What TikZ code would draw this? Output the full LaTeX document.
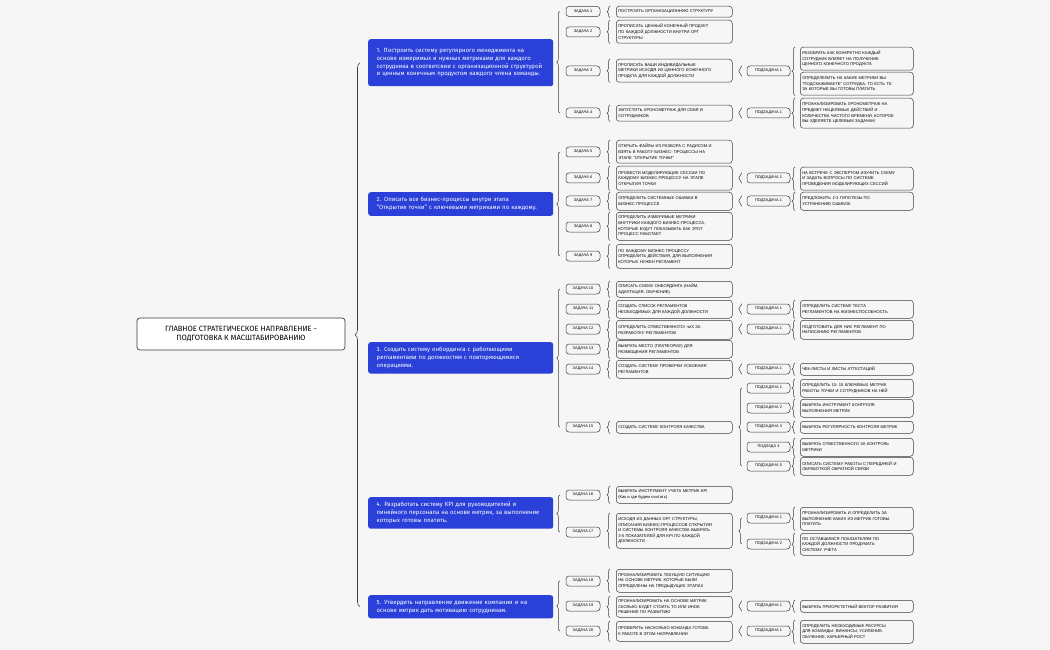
\documentclass[tikz,border=0pt]{standalone}
\usepackage{fontspec}
\setmainfont{Fira Sans}
\newfontfamily\smf{Liberation Sans}
\usetikzlibrary{decorations.pathreplacing}
\definecolor{bl}{HTML}{2A40D8}
\definecolor{ln}{HTML}{3A3A3A}
\definecolor{bg}{HTML}{F6F6F7}
\tikzset{
 every node/.style={inner sep=2pt},
 root/.style={draw=ln,line width=0.7pt,rounded corners=3pt,fill=white,minimum width=208,minimum height=32,align=center,font=\fontsize{7.6}{9.5}\selectfont},
 blue/.style={fill=bl,rounded corners=2.5pt,text=white,anchor=north west,minimum width=185,text width=168,inner sep=5pt,align=left,font=\fontsize{6.0}{7.8}\selectfont},
 tl/.style={draw=ln,line width=0.5pt,rounded corners=3pt,minimum width=34,minimum height=10,inner sep=1pt,font=\smf\fontsize{3.9}{4.5}\selectfont},
 sl/.style={tl,minimum width=43},
 tb/.style={draw=ln,line width=0.5pt,rounded corners=3pt,anchor=north west,minimum width=116,text width=112,align=left,font=\smf\fontsize{4.1}{5.6}\selectfont},
 sb/.style={tb,minimum width=113,text width=109},
 br/.style={draw=ln,line width=0.5pt,decorate,decoration={brace,amplitude=3pt}},
 bbr/.style={draw=ln,line width=0.6pt,decorate,decoration={brace,amplitude=5pt}},
}
\newcommand\Task[6]{%
 \node[tl] (l#1) at (583,#3) {#2};
 \node[tb,minimum height={#5-#4}] (x#1) at (616,#4) {#6};
 \draw[br] ([xshift=-6]x#1.south west) -- ([xshift=-6]x#1.north west);}
\newcommand\Sub[6]{%
 \node[sl] (s#1) at (768.5,#3) {#2};
 \node[sb,minimum height={#5-#4}] (y#1) at (800,#4) {#6};
 \draw[br] ([xshift=-5]y#1.south west) -- ([xshift=-5]y#1.north west);}
\newcommand\SubBr[1]{\draw[br] ([xshift=-5]#1.south west) -- ([xshift=-5]#1.north west);}
\begin{document}
\begin{tikzpicture}[x=1pt,y=-1pt]
\useasboundingbox (0,0) rectangle (1050,650);
\fill[bg] (0,0) rectangle (1050,650);
\node[root] (r) at (241,334) {ГЛАВНОЕ СТРАТЕГИЧЕСКОЕ НАПРАВЛЕНИЕ -\\ПОДГОТОВКА К МАСШТАБИРОВАНИЮ};
\node[blue,minimum height=47] (b1) at (368,39) {1. Построить систему регулярного менеджмента на основе измеримых и нужных метриками для каждого сотрудника в соответсвии с организационной структурой и ценным конечным продуктом каждого члена команды.};
\node[blue,minimum height=22] (b2) at (368,192) {2. Описать все бизнес-процессы внутри этапа\\"Открытие точки" с ключевыми метриками по каждому.};
\node[blue,minimum height=31] (b3) at (368,342) {3. Создать систему онбординга с работающими регламентами по должностям с повторяющимися операциями.};
\node[blue,minimum height=30] (b4) at (368,497) {4. Разработать систему KPI для руководителей и линейного персонала на основе метрик, за выполнение которых готовы платить.};
\node[blue,minimum height=23] (b5) at (368,595) {5. Утвердить направление движение компании и на основе метрик дать мотивацию сотрудникам.};
\draw[bbr] ([xshift=-8]b5.west) -- ([xshift=-8]b1.west);
% group 1
\Task{1}{ЗАДАЧА 1}{11.5}{6}{17}{ПОСТРОИТЬ ОРГАНИЗАЦИОННУЮ СТРУКТУРУ}
\Task{2}{ЗАДАЧА 2}{32}{20}{43}{ПРОПИСАТЬ ЦЕННЫЙ КОНЕЧНЫЙ ПРОДУКТ\\ПО КАЖДОЙ ДОЛЖНОСТИ ВНУТРИ ОРГ\\СТРУКТУРЫ}
\Task{3}{ЗАДАЧА 3}{71}{59}{82}{ПРОПИСАТЬ ВАШИ ИНДИВИДАЛЬНЫЕ\\МЕТРИКИ ИСХОДЯ ИЗ ЦЕННОГО КОНЕЧНОГО\\ПРОДКТА ДЛЯ КАЖДОЙ ДОЛЖНОСТИ}
\Task{4}{ЗАДАЧА 4}{113}{105}{121}{ЗАПУСТИТЬ ХРОНОМЕТРАЖ ДЛЯ СЕБЯ И\\СОТРУДНИКОВ}
\draw[br] ([xshift=-6]l4.west) -- ([xshift=-6]l1.west);
\node[sl] (s3) at (768.5,71) {ПОДЗАДАЧА 1};
\node[sb,minimum height=23] (y3a) at (800,47) {РАЗОБРАТЬ КАК КОНКРЕТНО КАЖДЫЙ\\СОТРУДНИК ВЛИЯЕТ НА ПОЛУЧЕНИЕ\\ЦЕННОГО КОНЕЧНОГО ПРОДУКТА};
\node[sb,minimum height=23] (y3b) at (800,72) {ОПРЕДЕЛЕЛИТЬ НА КАКИЕ МЕТРИКИ ВЫ\\"ПОДСКАЖИВАЕТЕ" СОТРУДКА, ТО ЕСТЬ ТЕ\\ЗА КОТОРЫЕ ВЫ ГОТОВЫ ПЛАТИТЬ};
\draw[br] ([xshift=-5]y3b.south west) -- ([xshift=-5]y3a.north west);
\SubBr{s3}
\Sub{4}{ПОДЗАДАЧА 1}{113}{98}{128}{ПРОАНАЛИЗИРОВАТЬ ХРОНОМЕТРАЖ НА\\ПРЕДМЕТ НЕЦЕЛЕВЫХ ДЕЙСТВИЙ И\\КОЛИЧЕСТВА ЧИСТОГО ВРЕМЕНИ, КОТОРОЕ\\ВЫ УДЕЛЯЕТЕ ЦЕЛЕВЫМ ЗАДАЧАМ}
\SubBr{s4}
% group 2
\Task{5}{ЗАДАЧА 5}{152}{140}{163}{ОТКРЫТЬ ФАЙЛЫ ИЗ РАЗБОРА С РАДИСОМ И\\ВЗЯТЬ В РАБОТУ БИЗНЕС- ПРОЦЕССЫ НА\\ЭТАПЕ "ОТКРЫТИЕ ТОЧКИ"}
\Task{6}{ЗАДАЧА 6}{178}{166}{190}{ПРОВЕСТИ МОДЕЛИРУЮЩИЕ СЕССИИ ПО\\КАЖДОМУ БИЗНЕС-ПРОЦЕССУ НА ЭТАПЕ\\ОТКРЫТИЯ ТОЧКИ}
\Task{7}{ЗАДАЧА 7}{201}{192}{210}{ОПРЕДЕЛИТЬ СИСТЕМНЫЕ ОШИБКИ В\\БИЗНЕС ПРОЦЕССЕ}
\Task{8}{ЗАДАЧА 8}{227}{212}{240}{ОПРЕДЕЛИТЬ ИЗМЕРИМЫЕ МЕТРИКИ\\ВНУТРИКИ КАЖДОГО БИЗНЕС-ПРОЦЕССА,\\КОТОРЫЕ БУДУТ ПОКАЗЫВАТЬ КАК ЭТОТ\\ПРОЦЕСС РАБОТАЕТ}
\Task{9}{ЗАДАЧА 9}{256}{244}{268}{ПО КАЖДОМУ БИЗНЕС ПРОЦЕССУ\\ОПРЕДЕЛИТЬ ДЕЙСТВИЯ, ДЛЯ ВЫПОЛНЕНИЯ\\КОТОРЫХ НУЖЕН РЕГЛАМЕНТ}
\draw[br] ([xshift=-6]l9.west) -- ([xshift=-6]l5.west);
\Sub{6}{ПОДЗАДАЧА 1}{178}{167}{190}{НА ВСТРЕЧЕ С ЭКСПЕРТОМ ИЗУЧИТЬ СХЕМУ\\И ЗАДАТЬ ВОПРОСЫ ПО СИСТЕМЕ\\ПРОВЕДЕНИЯ МОДЕЛИРУЮЩИХ СЕССИЙ}
\SubBr{s6}
\Sub{7}{ПОДЗАДАЧА 1}{201}{192}{210}{ПРЕДЛОЖИТЬ 2-3 ГИПОТЕЗЫ ПО\\УСТРАНЕНИЮ ОШИБОК}
\SubBr{s7}
% group 3
\Task{10}{ЗАДАЧА 10}{289}{281}{297}{ОПИСАТЬ СХЕМУ ОНБОРДИНГА (НАЙМ,\\АДАПТАЦИЯ, ОБУЧЕНИЕ)}
\Task{11}{ЗАДАЧА 11}{309}{300}{318}{СОЗДАТЬ СПИСОК РЕГЛАМЕНТОВ\\НЕОБХОДИМЫХ ДЛЯ КАЖДОЙ ДОЛЖНОСТИ}
\Task{12}{ЗАДАЧА 12}{329}{320}{339}{ОПРЕДЕЛИТЬ ОТВЕСТВЕННОГО/ -ЫХ ЗА\\РАЗРАБОТКУ РЕГЛАМЕНТОВ}
\Task{13}{ЗАДАЧА 13}{349}{340}{358}{ВЫБРАТЬ МЕСТО (ПЛАТФОРМУ) ДЛЯ\\РАЗМЕЩЕНИЯ РЕГЛАМЕНТОВ}
\Task{14}{ЗАДАЧА 14}{369}{360}{378}{СОЗДАТЬ СИСТЕМУ ПРОВЕРКИ УСВОЕНИЯ\\РЕГЛАМЕНТОВ}
\Task{15}{ЗАДАЧА 15}{427}{421}{433}{СОЗДАТЬ СИСТЕМУ КОНТРОЛЯ КАЧЕСТВА}
\draw[br] ([xshift=-6]l15.west) -- ([xshift=-6]l10.west);
\Sub{11}{ПОДЗАДАЧА 1}{309}{300}{318}{ОПРЕДЕЛИТЬ СИСТЕМУ ТЕСТА\\РЕГЛАМЕНТОВ НА ЖИЗНЕСПОСОБНОСТЬ}
\SubBr{s11}
\Sub{12}{ПОДЗАДАЧА 1}{329}{320}{339}{ПОДГОТОВИТЬ ДЛЯ НИХ РЕГЛАМЕНТ ПО\\НАПИСАНИЮ РЕГЛАМЕНТОВ}
\SubBr{s12}
\Sub{14}{ПОДЗАДАЧА 1}{369}{363}{375}{ЧЕК-ЛИСТЫ И ЛИСТЫ АТТЕСТАЦИЙ}
\SubBr{s14}
\Sub{15a}{ПОДЗАДАЧА 1}{388}{379}{397}{ОПРЕДЕЛИТЬ 10- 15 КЛЮЧЕВЫХ МЕТРИК\\РАБОТЫ ТОЧКИ И СОТРУДНИКОВ НА НЕЙ}
\Sub{15b}{ПОДЗАДАЧА 2}{408}{399}{417}{ВЫБРАТЬ ИНСТРУМЕНТ КОНТРОЛЯ\\ВЫПОЛНЕНИЯ МЕТРИК}
\Sub{15c}{ПОДЗАДАЧА 3}{427}{421}{433}{ВЫБРАТЬ РЕГУЛЯРНОСТЬ КОНТРОЛЯ МЕТРИК}
\Sub{15d}{ПОДЗАДА 4}{447}{438}{456}{ВЫБРАТЬ ОТВЕСТВЕННОГО ЗА КОНТРОЛЬ\\МЕТРИКИ}
\Sub{15e}{ПОДЗАДАЧА 5}{466}{457}{475}{ОПИСАТЬ СИСТЕМУ РАБОТЫ С ПЕРЕДАЧЕЙ И\\ОБРАБОТКОЙ ОБРАТНОЙ СВЯЗИ}
\draw[br] ([xshift=-5]s15e.west) -- ([xshift=-5]s15a.west);
% group 4
\Task{16}{ЗАДАЧА 16}{495}{486}{503}{ВЫБРАТЬ ИНСТРУМЕНТ УЧЕТА МЕТРИК KPI\\(Как и где будем считать)}
\Task{17}{ЗАДАЧА 17}{532}{513}{548}{ИСХОДЯ ИЗ ДАННЫХ ОРГ СТРУКТУРЫ,\\ОПИСАНИЯ БИЗНЕС-ПРОЦЕССОВ ОТКРЫТИЯ\\И СИСТЕМЫ КОНТРОЛЯ КАЧЕСТВА ВЫБРАТЬ\\3-5 ПОКАЗАТЕЛЕЙ ДЛЯ KPI ПО КАЖДОЙ\\ДОЛЖНОСТИ}
\draw[br] ([xshift=-6]l17.west) -- ([xshift=-6]l16.west);
\Sub{17a}{ПОДЗАДАЧА 1}{518}{507}{530}{ПРОАНАЛИЗИРОВАТЬ И ОПРЕДЕЛИТЬ ЗА\\ВЫПОЛНЕНИЕ КАКИХ ИЗ МЕТРИК ГОТОВЫ\\ПЛАТИТЬ}
\Sub{17b}{ПОДЗАДАЧА 2}{544}{533}{555}{ПО ОСТАВШИМСЯ ПОКАЗАТЕЛЯМ ПО\\КАЖДОЙ ДОЛЖНОСТИ ПРОДУМАТЬ\\СИСТЕМУ УЧЕТА}
\draw[br] ([xshift=-5]s17b.west) -- ([xshift=-5]s17a.west);
% group 5
\Task{18}{ЗАДАЧА 18}{581}{569}{592}{ПРОАНАЛИЗИРОВАТЬ ТЕКУЩУЮ СИТУАЦИЮ\\НА ОСНОВЕ МЕТРИК, КОТОРЫЕ БЫЛИ\\ОПРЕДЕЛЕНЫ НА ПРЕДЫДУЩИХ ЭТАПАХ}
\Task{19}{ЗАДАЧА 19}{606}{596}{617}{ПРОАНАЛИЗИРОВАТЬ НА ОСНОВЕ МЕТРИК\\СКОЛЬКО БУДЕТ СТОИТЬ ТО ИЛИ ИНОЕ\\РЕШЕНИЕ ПО РАЗВИТИЮ}
\Task{20}{ЗАДАЧА 20}{631}{621}{641}{ПРОВЕРИТЬ НАСКОЛЬКО КОМАНДА ГОТОВА\\К РАБОТЕ В ЭТОМ НАПРАВЛЕНИИ}
\draw[br] ([xshift=-6]l20.west) -- ([xshift=-6]l18.west);
\Sub{19}{ПОДЗАДАЧА 1}{606}{600}{612}{ВЫБРАТЬ ПРИОРЕТЕТНЫЙ ВЕКТОР РАЗВИТИЯ}
\SubBr{s19}
\Sub{20}{ПОДЗАДАЧА 1}{631}{620}{643}{ОПРЕДЕЛИТЬ НЕОБХОДИМЫЕ РЕСУРСЫ\\ДЛЯ КОМАНДЫ: ФИНАНСЫ, УСИЛЕНИЕ,\\ОБУЧЕНИЕ, КАРЬЕРНЫЙ РОСТ}
\SubBr{s20}
\end{tikzpicture}
\end{document}
